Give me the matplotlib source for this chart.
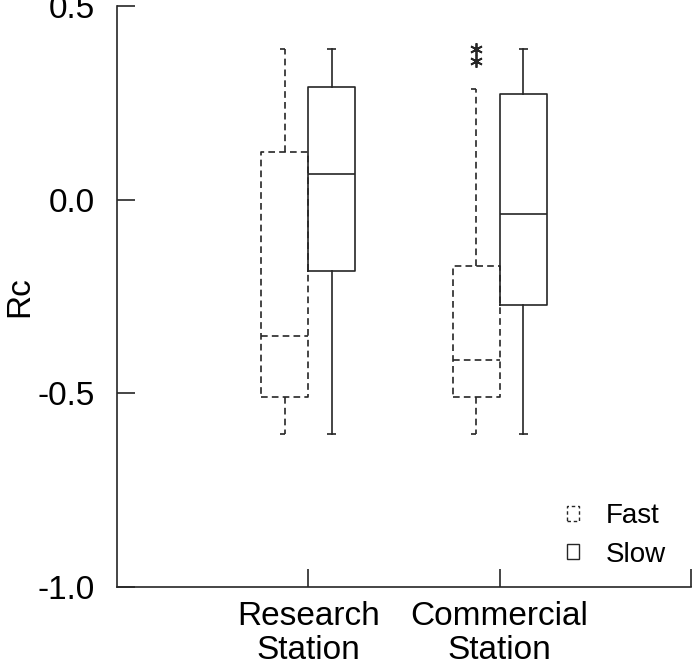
import numpy as np
import matplotlib.pyplot as plt
from matplotlib.patches import Rectangle

plt.rcParams['font.family'] = ['Liberation Sans', 'DejaVu Sans']
plt.rcParams['axes.unicode_minus'] = False

# data
groups = ['Research\nStation', 'Commercial\nStation']
fast_whislo = [-0.605, -0.605]
fast_q1 = [-0.51, -0.51]
fast_med = [-0.352, -0.414]
fast_q3 = [0.122, -0.172]
fast_whishi = [0.39, 0.286]
fast_fliers = [[], [0.39, 0.358]]

slow_whislo = [-0.605, -0.605]
slow_q1 = [-0.184, -0.271]
slow_med = [0.066, -0.037]
slow_q3 = [0.291, 0.274]
slow_whishi = [0.39, 0.39]

ink = '#262626'
lw = 1.2
width = 0.245
pos = np.array([1, 2])


def stats(lo, q1, med, q3, hi, fl=None):
    out = []
    for i in range(len(lo)):
        out.append(dict(whislo=lo[i], q1=q1[i], med=med[i], q3=q3[i], whishi=hi[i],
                        fliers=fl[i] if fl else []))
    return out


fig = plt.figure(figsize=(6.95, 6.72), dpi=100)
ax = fig.add_axes([117 / 695, 85 / 672, 574 / 695, 581 / 672])

dash = (0, (4, 2.5))
fast_pos = pos - width / 2
slow_pos = pos + width / 2

ax.bxp(stats(fast_whislo, fast_q1, fast_med, fast_q3, fast_whishi, fast_fliers),
       positions=fast_pos, widths=width, showcaps=False,
       boxprops=dict(color=ink, lw=lw, linestyle=dash),
       whiskerprops=dict(color=ink, lw=lw, linestyle=dash),
       medianprops=dict(color=ink, lw=lw, linestyle=dash),
       flierprops=dict(marker=(6, 2, 0), markersize=9, markeredgecolor=ink,
                       markeredgewidth=1.3, linestyle='none'))
ax.bxp(stats(slow_whislo, slow_q1, slow_med, slow_q3, slow_whishi),
       positions=slow_pos, widths=width, showcaps=False,
       boxprops=dict(color=ink, lw=lw),
       whiskerprops=dict(color=ink, lw=lw),
       medianprops=dict(color=ink, lw=lw))

# caps: half caps on the dashed boxes, full caps on the solid ones
fc = 0.027
ax.hlines(fast_whishi, fast_pos - fc, fast_pos, color=ink, lw=lw)
ax.hlines(fast_whislo, fast_pos - fc, fast_pos, color=ink, lw=lw)
sc = 0.024
ax.hlines(slow_whishi, slow_pos - sc, slow_pos + sc, color=ink, lw=lw)
ax.hlines(slow_whislo, slow_pos - sc, slow_pos + sc, color=ink, lw=lw)

ax.set_xlim(0, 3)
ax.set_ylim(-1.0, 0.5)
ax.set_yticks([-1.0, -0.5, 0.0, 0.5])
ax.set_yticklabels(['%.1f' % v for v in [-1.0, -0.5, 0.0, 0.5]], fontsize=24)
ax.set_xticks([1, 2, 3])
ax.set_xticklabels(groups + [''], fontsize=24, linespacing=1.15)
ax.tick_params(direction='in', length=13, width=1.2, color=ink)
ax.tick_params(axis='x', pad=10)
ax.tick_params(axis='y', pad=16)
ax.set_ylabel('Rc', fontsize=24)
ax.yaxis.set_label_coords(-0.143, 0.5)

for s in ['top', 'right']:
    ax.spines[s].set_visible(False)
for s in ['left', 'bottom']:
    ax.spines[s].set_color(ink)
    ax.spines[s].set_linewidth(1.2)

h_fast = Rectangle((0, 0), 1, 1, facecolor='none', edgecolor=ink, lw=1.0, linestyle=(0, (2.5, 2)))
h_slow = Rectangle((0, 0), 1, 1, facecolor='none', edgecolor=ink, lw=1.0)
ax.legend([h_fast, h_slow], ['Fast', 'Slow'], frameon=False, fontsize=20,
          loc='lower right', bbox_to_anchor=(1.0, -0.01),
          handlelength=0.45, handleheight=0.45, handletextpad=0.95, labelspacing=0.45)

fig.savefig('out.png', dpi=100)
